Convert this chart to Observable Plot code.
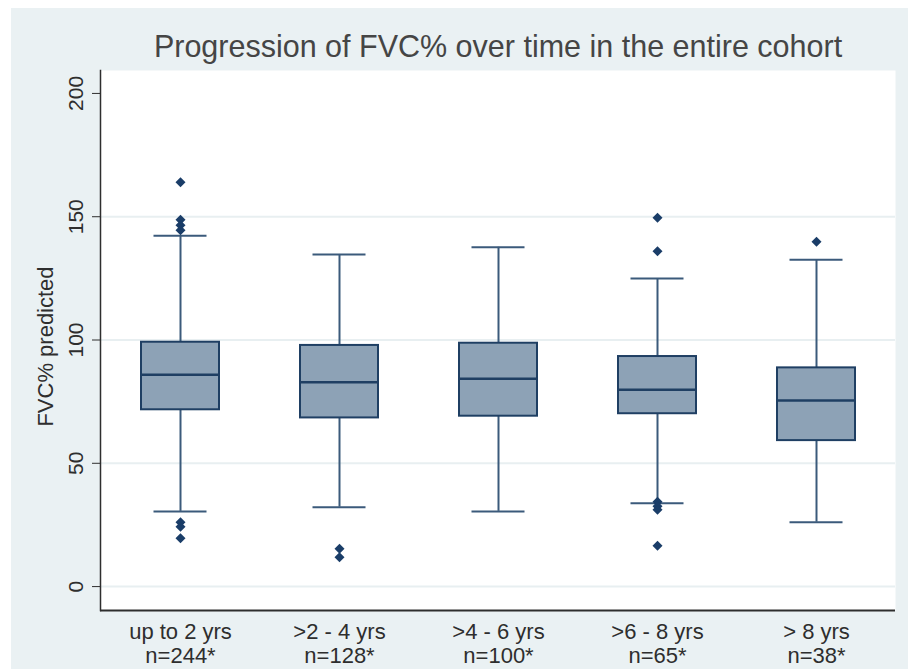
<!DOCTYPE html>
<html>
<head>
<meta charset="utf-8">
<script src="https://cdn.jsdelivr.net/npm/d3@7"></script>
<script src="https://cdn.jsdelivr.net/npm/@observablehq/plot@0.6"></script>
<style>
  html, body { margin: 0; padding: 0; background: #ffffff; }
  #wrap { padding: 8px 0 0 11px; }
  svg { display: block; }
</style>
</head>
<body>
<div id="wrap"></div>
<script>
// ---- data ----
const titleText = "Progression of FVC% over time in the entire cohort";
const yLabel = "FVC% predicted";
const categories = ["up to 2 yrs", ">2 - 4 yrs", ">4 - 6 yrs", ">6 - 8 yrs", "> 8 yrs"];
const counts = ["n=244*", "n=128*", "n=100*", "n=65*", "n=38*"];
const whiskerLow  = [30.5, 32.2, 30.5, 33.8, 26.1];
const q1          = [71.7, 68.4, 69.1, 70.1, 59.2];
const median      = [85.9, 82.9, 84.3, 79.8, 75.5];
const q3          = [99.1, 97.8, 98.7, 93.3, 88.7];
const whiskerHigh = [142.3, 134.7, 137.6, 124.9, 132.5];
const outlierGroup = ["up to 2 yrs", "up to 2 yrs", "up to 2 yrs", "up to 2 yrs", "up to 2 yrs", "up to 2 yrs", "up to 2 yrs",
                      ">2 - 4 yrs", ">2 - 4 yrs",
                      ">6 - 8 yrs", ">6 - 8 yrs", ">6 - 8 yrs", ">6 - 8 yrs", ">6 - 8 yrs", ">6 - 8 yrs",
                      "> 8 yrs"];
const outlierValue = [164.0, 148.8, 146.5, 144.5, 26.1, 24.3, 19.6,
                      15.3, 11.9,
                      149.6, 136.0, 34.4, 32.6, 31.2, 16.6,
                      139.8];
const yTicks = [0, 50, 100, 150, 200];
const gridValues = [0, 50, 100, 150];

// ---- build tables ----
const boxes = categories.map((c, i) => ({
  cat: c, lo: whiskerLow[i], q1: q1[i], med: median[i], q3: q3[i], hi: whiskerHigh[i]
}));
const outliers = outlierValue.map((v, i) => ({cat: outlierGroup[i], v}));
const countOf = new Map(categories.map((c, i) => [c, counts[i]]));

const font = "'Liberation Sans', Arial, sans-serif";
const boxFill = "#8da2b6";
const navy = "#1f3f63";
const whisker = "#3b5a7b";
const ink = "#2e2e2e";

const chart = Plot.plot({
  width: 897,
  height: 661,
  marginLeft: 89,
  marginRight: 13,
  marginTop: 62,
  marginBottom: 59,
  style: {background: "#eaf1f3", fontFamily: font, overflow: "visible"},
  x: {type: "band", domain: categories, range: [89, 884], paddingInner: 0.51, paddingOuter: 0.255},
  y: {domain: [-9.7, 209.3], nice: false},
  marks: [
    Plot.frame({fill: "#ffffff", stroke: null}),
    Plot.ruleY(gridValues, {stroke: "#e8eff1", strokeWidth: 2}),
    // whiskers
    Plot.ruleX(boxes, {x: "cat", y1: "lo", y2: "q1", stroke: whisker, strokeWidth: 2}),
    Plot.ruleX(boxes, {x: "cat", y1: "q3", y2: "hi", stroke: whisker, strokeWidth: 2}),
    Plot.tickY(boxes, {x: "cat", y: "lo", stroke: whisker, strokeWidth: 2, insetLeft: 12.5, insetRight: 12.5}),
    Plot.tickY(boxes, {x: "cat", y: "hi", stroke: whisker, strokeWidth: 2, insetLeft: 12.5, insetRight: 12.5}),
    // boxes
    Plot.barY(boxes, {x: "cat", y1: "q1", y2: "q3", fill: boxFill, stroke: navy, strokeWidth: 2}),
    Plot.tickY(boxes, {x: "cat", y: "med", stroke: navy, strokeWidth: 2.5}),
    // outliers
    Plot.dot(outliers, {x: "cat", y: "v", symbol: "diamond2", r: 4.5, fill: "#1a3d68", stroke: null}),
    // axes lines
    Plot.ruleY([-9.7], {stroke: ink, strokeWidth: 2}),
    Plot.frame({anchor: "left", stroke: ink, strokeWidth: 1.5}),
    Plot.axisY({ticks: yTicks, tickSize: 8, tickFormat: () => "", label: null, stroke: ink}),
    Plot.text(yTicks, {y: d => d, text: d => String(d), frameAnchor: "left", dx: -18, rotate: -90,
      textAnchor: "middle", lineAnchor: "bottom", fontSize: 21, fill: ink}),
    Plot.text([yLabel], {frameAnchor: "left", dx: -55, dy: 6, rotate: -90, textAnchor: "middle",
      lineAnchor: "middle", fontSize: 22, fill: ink}),
    Plot.axisX({tickSize: 0, tickPadding: 11, fontSize: 22, lineHeight: 1.1, label: null, fill: ink,
      tickFormat: d => d + "\n" + countOf.get(d)}),
    Plot.text([titleText], {frameAnchor: "top", dy: -23, lineAnchor: "middle", fontSize: 30.5, fill: "#454545"})
  ]
});
document.getElementById("wrap").appendChild(chart);
</script>
</body>
</html>
